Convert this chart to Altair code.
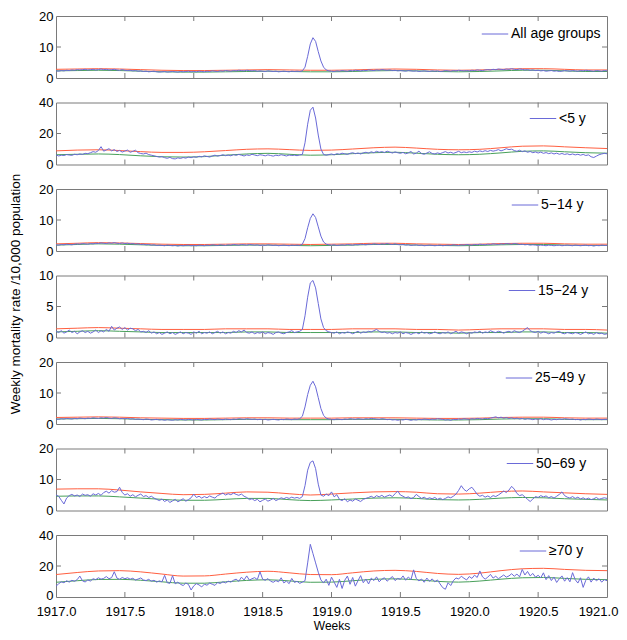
import altair as alt
import pandas as pd

START_YEAR = 1917.0
WEEKS_PER_YEAR = 52
BASE_EVERY = 8  # weeks between samples of the seasonal baseline / threshold curves

labels = ["All age groups", "<5 y", "5\u221214 y", "15\u221224 y", "25\u221249 y", "50\u221269 y", "\u226570 y"]
y_max = [20, 40, 20, 10, 20, 20, 40]
y_ticks = [[0, 10, 20], [0, 20, 40], [0, 10, 20], [0, 5, 10], [0, 10, 20], [0, 10, 20], [0, 20, 40]]
x_ticks = [1917.0, 1917.5, 1918.0, 1918.5, 1919.0, 1919.5, 1920.0, 1920.5, 1921.0]

# ---------------- observed weekly mortality (blue) ----------------
obs_all = [
    2.3, 2.2, 2.4, 2.3, 2.5, 2.4, 2.6, 2.5, 2.7, 2.6, 2.7, 2.8, 2.6,
    2.7, 2.8, 2.6, 2.7, 2.9, 2.7, 2.8, 2.6, 2.7, 2.8, 2.6, 2.5, 2.7,
    2.5, 2.4, 2.5, 2.3, 2.4, 2.2, 2.3, 2.1, 2.2, 2.0, 2.1, 2.2, 2.0,
    1.9, 2.0, 2.1, 1.9, 2.0, 2.1, 2.0, 1.9, 2.1, 2.0, 2.1, 2.2, 2.0,
    2.1, 2.0, 2.2, 2.1, 2.0, 2.2, 2.1, 2.3, 2.2, 2.1, 2.3, 2.2, 2.4,
    2.3, 2.2, 2.4, 2.3, 2.5, 2.4, 2.3, 2.5, 2.4, 2.3, 2.4, 2.2, 2.3,
    2.2, 2.1, 2.3, 2.2, 2.1, 2.2, 2.0, 2.1, 2.2, 2.1, 2.0, 2.2, 2.1,
    2.2, 2.1, 2.3, 3.5, 7.0, 11.0, 13.0, 11.8, 8.5, 5.5, 3.5, 2.6, 2.3,
    2.2, 2.1, 2.3, 2.2, 2.4, 2.3, 2.2, 2.4, 2.3, 2.5, 2.4, 2.3, 2.5,
    2.4, 2.6, 2.5, 2.4, 2.6, 2.5, 2.7, 2.6, 2.5, 2.6, 2.4, 2.5, 2.3,
    2.4, 2.3, 2.2, 2.4, 2.3, 2.2, 2.3, 2.1, 2.2, 2.3, 2.2, 2.1, 2.3,
    2.2, 2.3, 2.1, 2.2, 2.4, 2.3, 2.2, 2.4, 2.3, 2.5, 2.4, 2.3, 2.4,
    2.3, 2.5, 2.4, 2.6, 2.5, 2.4, 2.6, 2.7, 2.6, 2.8, 2.7, 2.9, 2.8,
    2.7, 2.9, 2.8, 3.0, 2.8, 2.7, 2.9, 2.8, 2.6, 2.7, 2.5, 2.6, 2.4,
    2.5, 2.3, 2.4, 2.2, 2.3, 2.4, 2.2, 2.3, 2.1, 2.2, 2.4, 2.3, 2.2,
    2.4, 2.3, 2.2, 2.4, 2.3, 2.5, 2.4, 2.3, 2.2, 2.4, 2.3, 2.2, 2.4,
    2.3,
]
obs_u5 = [
    6.2, 5.5, 6.0, 5.8, 6.4, 6.1, 5.9, 6.6, 6.3, 6.8, 6.5, 7.2, 7.0,
    7.6, 8.3, 7.9, 9.0, 11.5, 8.6, 9.4, 10.2, 8.8, 9.6, 8.4, 9.1, 8.0,
    8.7, 9.3, 7.9, 8.5, 9.2, 7.6, 7.1, 6.8, 7.3, 6.4, 6.0, 5.6, 5.2,
    4.8, 5.1, 4.4, 4.0, 4.6, 3.8, 3.6, 4.3, 3.9, 4.5, 4.1, 4.8, 4.4,
    5.0, 4.6, 5.3, 4.9, 5.6, 5.2, 4.8, 5.5, 6.0, 5.4, 5.8, 6.3, 5.7,
    6.1, 5.6, 6.4, 5.9, 6.5, 6.0, 5.5, 6.2, 5.8, 6.6, 6.1, 5.7, 6.3,
    6.0, 5.6, 6.2, 5.8, 5.4, 6.0, 5.7, 6.3, 5.9, 5.5, 6.1, 5.8, 6.0,
    5.7, 6.2, 6.5, 14.0, 26.0, 35.0, 37.0, 30.0, 19.0, 10.0, 6.5, 6.0, 6.4,
    6.8, 6.2, 7.0, 6.6, 7.3, 6.9, 6.5, 7.2, 7.6, 7.0, 7.4, 6.8, 7.5,
    7.9, 7.3, 8.2, 7.6, 8.5, 7.9, 8.3, 7.7, 8.6, 8.0, 7.4, 8.1, 7.6,
    7.2, 7.8, 6.9, 7.5, 8.4, 6.8, 7.3, 8.6, 7.0, 6.6, 7.4, 8.2, 7.1,
    6.8, 7.5, 7.0, 7.7, 8.3, 7.4, 7.9, 7.2, 7.8, 8.5, 7.6, 8.1, 7.7,
    8.2, 7.8, 8.6, 8.1, 8.8, 8.3, 8.9, 8.4, 9.1, 8.6, 9.0, 9.6, 8.8,
    9.4, 10.2, 9.6, 9.9, 9.0, 8.5, 9.2, 8.3, 8.8, 7.9, 8.4, 7.6, 8.1,
    7.4, 8.0, 7.2, 7.7, 7.0, 7.5, 6.8, 7.3, 6.6, 7.1, 6.5, 6.9, 6.3,
    6.8, 6.2, 6.6, 6.0, 6.5, 5.8, 6.2, 5.0, 4.5, 5.4, 6.3, 6.8, 7.2,
    6.9,
]
obs_5_14 = [
    2.0, 1.9, 2.1, 2.0, 2.2, 2.1, 2.0, 2.2, 2.3, 2.2, 2.4, 2.3, 2.2,
    2.4, 2.3, 2.5, 2.4, 2.6, 2.5, 2.4, 2.6, 2.5, 2.7, 2.5, 2.4, 2.6,
    2.4, 2.5, 2.3, 2.4, 2.2, 2.3, 2.1, 2.2, 2.0, 2.1, 1.9, 2.0, 1.8,
    1.9, 1.8, 1.7, 1.9, 1.8, 1.7, 1.8, 1.6, 1.8, 1.7, 1.8, 1.9, 1.7,
    1.8, 1.7, 1.9, 1.8, 1.7, 1.9, 1.8, 2.0, 1.9, 1.8, 2.0, 1.9, 1.8,
    2.0, 1.9, 2.1, 2.0, 1.9, 2.1, 2.0, 1.9, 2.1, 2.0, 1.9, 2.0, 1.8,
    1.9, 1.8, 2.0, 1.9, 1.8, 1.9, 1.7, 1.8, 1.9, 1.8, 1.7, 1.9, 1.8,
    1.9, 1.8, 2.2, 4.0, 7.5, 10.5, 12.0, 10.8, 7.8, 4.8, 2.9, 2.2, 2.0,
    1.9, 2.0, 1.8, 1.9, 2.0, 1.9, 2.1, 2.0, 1.9, 2.1, 2.0, 2.2, 2.1,
    2.0, 2.2, 2.1, 2.3, 2.2, 2.1, 2.3, 2.2, 2.4, 2.2, 2.1, 2.3, 2.1,
    2.0, 2.1, 1.9, 2.0, 1.8, 1.9, 2.0, 1.8, 1.9, 1.7, 1.8, 1.9, 1.8,
    1.7, 1.8, 1.9, 1.7, 1.8, 1.9, 1.8, 2.0, 1.9, 1.8, 2.0, 1.9, 2.1,
    2.0, 1.9, 2.1, 2.0, 2.2, 2.1, 2.0, 2.2, 2.1, 2.3, 2.2, 2.1, 2.3,
    2.2, 2.4, 2.3, 2.2, 2.4, 2.3, 2.1, 2.2, 2.0, 2.1, 1.9, 2.0, 1.9,
    1.8, 1.9, 1.8, 1.7, 1.9, 1.8, 1.7, 1.8, 1.9, 1.7, 1.8, 1.9, 1.8,
    1.7, 1.9, 1.8, 1.7, 1.8, 1.9, 1.7, 1.8, 1.6, 1.8, 1.7, 1.9, 1.8,
    1.8,
]
obs_15_24 = [
    1.0, 0.8, 1.1, 0.7, 0.9, 1.2, 0.8, 1.0, 0.6, 0.9, 1.1, 0.8, 1.0,
    0.7, 0.9, 1.2, 0.8, 1.1, 0.9, 1.3, 1.0, 1.8, 1.2, 1.5, 1.7, 1.3,
    1.6, 1.2, 1.5, 1.4, 1.1, 1.3, 0.9, 1.0, 0.8, 1.1, 0.7, 0.9, 0.6,
    0.8, 0.5, 0.7, 0.9, 0.6, 0.8, 0.5, 0.7, 0.9, 0.6, 0.8, 0.7, 0.5,
    0.9, 0.7, 1.0, 0.6, 0.8, 0.7, 0.9, 0.6, 0.8, 1.0, 0.7, 0.9, 0.6,
    0.8, 0.7, 1.0, 0.8, 1.1, 0.9, 1.2, 0.8, 0.7, 0.9, 0.6, 0.8, 0.7,
    0.9, 0.6, 0.8, 0.7, 0.5, 0.8, 0.9, 0.7, 0.6, 0.8, 0.9, 1.1, 0.8,
    0.9, 1.0, 1.3, 3.5, 6.5, 8.8, 9.2, 8.0, 5.5, 3.0, 1.6, 1.1, 0.9,
    0.8, 0.7, 0.9, 0.6, 0.8, 0.7, 0.9, 0.8, 0.6, 0.8, 1.0, 0.7, 0.9,
    0.8, 1.0, 0.9, 1.1, 1.3, 1.0, 0.8, 0.9, 0.7, 0.8, 0.6, 0.8, 0.7,
    0.9, 0.6, 0.8, 0.7, 0.5, 0.7, 0.8, 0.6, 0.9, 0.7, 0.8, 0.6, 0.7,
    0.9, 0.7, 0.6, 0.8, 0.7, 0.9, 0.6, 0.8, 1.0, 0.7, 0.9, 0.8, 0.6,
    0.8, 0.7, 0.9, 0.8, 1.0, 0.7, 0.9, 0.8, 1.1, 0.9, 0.8, 1.0, 0.9,
    0.7, 0.9, 1.0, 0.8, 1.1, 0.9, 0.8, 1.0, 1.3, 1.6, 1.1, 0.9, 0.8,
    1.0, 0.7, 0.9, 0.8, 0.6, 0.8, 0.7, 0.9, 1.0, 0.7, 0.6, 0.8, 0.7,
    0.6, 0.8, 0.7, 0.5, 0.7, 0.9, 0.6, 0.7, 0.5, 0.8, 0.6, 0.7, 0.5,
    0.6,
]
obs_25_49 = [
    1.6, 1.5, 1.7, 1.6, 1.8, 1.7, 1.6, 1.8, 1.7, 1.9, 1.8, 1.7, 1.9,
    1.8, 2.0, 1.9, 1.8, 2.0, 1.9, 2.1, 1.9, 1.8, 2.0, 1.9, 1.7, 1.8,
    1.7, 1.8, 1.6, 1.7, 1.5, 1.6, 1.5, 1.4, 1.6, 1.5, 1.3, 1.4, 1.5,
    1.3, 1.4, 1.2, 1.4, 1.3, 1.2, 1.4, 1.3, 1.5, 1.4, 1.3, 1.5, 1.4,
    1.3, 1.5, 1.4, 1.3, 1.5, 1.4, 1.6, 1.5, 1.4, 1.6, 1.5, 1.4, 1.6,
    1.5, 1.4, 1.6, 1.5, 1.7, 1.6, 1.5, 1.7, 1.6, 1.5, 1.6, 1.4, 1.5,
    1.4, 1.5, 1.3, 1.4, 1.5, 1.4, 1.3, 1.5, 1.4, 1.6, 1.5, 1.4, 1.6,
    1.5, 1.7, 2.5, 5.5, 9.5, 12.5, 13.8, 12.0, 8.5, 5.0, 2.8, 1.9, 1.6,
    1.5, 1.4, 1.6, 1.5, 1.4, 1.6, 1.5, 1.7, 1.6, 1.5, 1.7, 1.6, 1.5,
    1.7, 1.6, 1.8, 1.7, 1.6, 1.5, 1.7, 1.6, 1.4, 1.5, 1.3, 1.4, 1.2,
    1.4, 1.3, 1.5, 1.4, 1.2, 1.4, 1.3, 1.5, 1.4, 1.6, 1.5, 1.4, 1.6,
    1.5, 1.7, 1.6, 1.5, 1.3, 1.4, 1.2, 1.5, 1.4, 1.6, 1.5, 1.7, 1.6,
    1.5, 1.7, 1.6, 1.8, 1.7, 1.6, 1.8, 1.7, 1.9, 2.1, 2.3, 2.0, 2.2,
    1.9, 2.1, 1.8, 2.0, 1.7, 1.9, 1.6, 1.8, 1.5, 1.7, 1.6, 1.4, 1.6,
    1.5, 1.7, 1.4, 1.6, 1.5, 1.3, 1.5, 1.4, 1.6, 1.5, 1.7, 1.6, 1.5,
    1.6, 1.4, 1.5, 1.3, 1.5, 1.4, 1.6, 1.5, 1.4, 1.6, 1.5, 1.4, 1.5,
    1.5,
]
obs_50_69 = [
    5.0, 4.6, 3.3, 2.1, 4.0, 4.8, 5.2, 4.7, 5.0, 4.5, 5.3, 4.9, 5.1,
    4.6, 5.4, 5.0, 5.5, 4.9, 5.8, 6.2, 5.6, 6.4, 5.9, 6.1, 7.5, 5.8,
    5.0, 5.4, 4.6, 5.1, 4.4, 4.9, 5.3, 4.5, 4.8, 4.2, 4.6, 4.0, 3.6,
    3.2, 3.7, 2.9, 3.4, 2.6, 3.1, 3.6, 2.8, 3.3, 3.8, 3.0, 3.5, 4.1,
    5.3, 4.2, 4.6, 4.0, 4.5, 4.1, 4.7, 4.3, 4.0, 4.8, 5.2, 5.6, 5.0,
    5.4, 5.1, 5.6, 5.2, 4.9, 5.3, 4.6, 4.2, 3.5, 3.8, 3.2, 3.6, 2.8,
    3.3, 3.7, 3.0, 3.4, 3.9, 3.2, 3.6, 4.1, 3.8, 4.2, 3.9, 4.3, 4.0,
    4.2, 3.9, 4.5, 8.0, 13.0, 15.5, 16.0, 13.5, 8.5, 5.0, 4.6, 5.3, 4.8,
    6.0, 4.4, 5.1, 3.6, 3.2, 3.8, 2.8, 3.4, 3.0, 3.7, 3.3, 2.9, 3.6,
    3.9, 4.2, 4.6, 4.1, 4.8, 4.4, 4.9, 4.3, 4.7, 5.0, 4.5, 5.4, 6.3,
    5.0, 4.6, 4.1, 4.4, 3.8, 4.2, 5.2, 4.5, 3.9, 4.3, 3.7, 4.1, 3.8,
    4.2, 3.6, 4.0, 3.5, 3.9, 4.4, 4.1, 4.6, 5.3, 6.5, 8.0, 6.8, 6.2,
    7.0, 7.5, 6.4, 5.2, 4.6, 4.9, 4.3, 4.7, 4.2, 4.8, 4.5, 5.0, 5.6,
    6.3, 5.8, 6.6, 7.8, 6.9, 5.5, 4.8, 5.1, 4.4, 3.6, 2.9, 3.7, 4.5,
    4.2, 4.8, 4.4, 4.7, 4.1, 4.5, 4.0, 4.6, 5.2, 6.0, 4.8, 4.3, 4.0,
    4.5, 3.9, 4.3, 3.7, 4.1, 3.6, 4.0, 3.5, 3.8, 4.2, 3.6, 3.9, 4.1,
    3.9,
]
obs_70 = [
    7.0, 8.5, 9.8, 9.2, 10.5, 9.6, 10.8, 10.1, 11.2, 13.5, 10.4, 9.7, 11.0,
    10.3, 11.8, 11.2, 12.4, 11.5, 12.0, 13.2, 11.8, 12.5, 16.3, 12.2, 11.4, 12.6,
    11.8, 12.4, 11.5, 12.1, 10.9, 11.6, 12.3, 11.0, 10.6, 11.4, 10.2, 10.8, 9.6,
    10.4, 9.8, 14.0, 9.2, 8.8, 13.8, 8.5, 9.6, 8.2, 7.4, 9.0, 8.1, 4.5,
    7.2, 8.6, 7.8, 6.5, 8.3, 7.6, 9.0, 8.2, 7.5, 9.3, 8.7, 9.8, 9.1,
    10.2, 9.6, 10.8, 11.5, 10.1, 12.8, 11.0, 13.6, 10.9, 11.8, 12.5, 11.2, 16.3,
    11.5, 10.8, 11.9, 10.2, 9.5, 10.6, 9.8, 12.4, 9.1, 10.3, 8.6, 12.0, 9.4,
    10.1, 8.8, 9.6, 10.5, 22.0, 34.0, 28.0, 22.0, 16.0, 11.0, 9.0, 11.5, 7.5,
    12.8, 9.6, 6.2, 11.4, 5.5, 10.8, 13.5, 8.2, 12.6, 7.0, 10.5, 13.8, 9.2,
    11.6, 8.4, 12.2, 10.6, 13.0, 9.8, 11.5, 12.4, 10.2, 11.8, 13.2, 10.6, 12.0,
    11.4, 13.6, 10.8, 12.9, 11.2, 17.5, 12.0, 10.4, 11.6, 9.5, 12.2, 10.1, 11.7,
    9.8, 11.0, 8.4, 6.0, 5.0, 9.2, 7.4, 10.5, 12.3, 11.6, 13.4, 12.1, 11.0,
    13.2, 12.0, 14.1, 12.6, 16.8, 13.0, 11.5, 12.8, 14.6, 12.2, 13.4, 11.8, 13.0,
    14.2, 12.8, 13.6, 15.0, 13.4, 14.8, 13.0, 17.8, 14.2, 16.5, 13.6, 15.2, 12.8,
    14.0, 12.4, 15.6, 11.2, 13.8, 10.6, 12.9, 9.4, 11.8, 13.6, 10.2, 12.5, 9.8,
    15.7, 11.2, 9.0, 12.4, 6.2, 10.8, 13.0, 9.6, 12.2, 10.4, 11.8, 9.6, 11.2,
    10.5,
]

# ---------------- epidemic threshold (red), sampled every 8 weeks ----------------
upper_all = [2.8, 2.9, 3.0, 2.9, 2.7, 2.5, 2.4, 2.4, 2.5, 2.6, 2.7, 2.6, 2.5, 2.5,
             2.6, 2.8, 2.9, 2.8, 2.6, 2.5, 2.6, 2.8, 3.0, 3.0, 2.8, 2.6, 2.6]
upper_u5 = [8.8, 9.3, 9.5, 9.0, 8.3, 7.8, 7.8, 8.2, 9.0, 9.8, 10.1, 9.6, 9.1, 9.3,
            10.0, 10.8, 11.2, 10.6, 9.8, 9.5, 9.8, 10.8, 11.8, 12.0, 11.4, 10.8, 10.3]
upper_5_14 = [2.3, 2.5, 2.7, 2.6, 2.4, 2.2, 2.1, 2.1, 2.2, 2.3, 2.3, 2.2, 2.1, 2.2,
              2.3, 2.5, 2.5, 2.3, 2.2, 2.1, 2.2, 2.4, 2.5, 2.5, 2.3, 2.2, 2.2]
upper_15_24 = [1.4, 1.5, 1.6, 1.5, 1.4, 1.3, 1.3, 1.3, 1.4, 1.4, 1.4, 1.3, 1.3, 1.3,
               1.4, 1.4, 1.4, 1.3, 1.3, 1.2, 1.3, 1.4, 1.4, 1.4, 1.3, 1.3, 1.2]
upper_25_49 = [2.1, 2.2, 2.3, 2.2, 2.0, 1.9, 1.8, 1.8, 1.9, 2.0, 2.0, 1.9, 1.9, 1.9,
               2.0, 2.0, 2.0, 1.9, 1.8, 1.8, 1.9, 2.1, 2.2, 2.2, 2.0, 1.9, 1.9]
upper_50_69 = [6.9, 7.0, 7.0, 6.6, 6.0, 5.5, 5.1, 5.2, 5.6, 6.0, 5.9, 5.4, 5.0, 5.3,
               5.7, 6.0, 6.1, 5.9, 5.4, 5.3, 5.6, 6.1, 6.3, 6.0, 5.7, 5.4, 5.2]
upper_70 = [14.5, 15.8, 16.8, 17.0, 16.2, 14.8, 13.5, 13.6, 14.8, 16.0, 16.6, 15.6, 14.5, 14.4,
            15.6, 16.8, 17.2, 16.5, 15.2, 14.6, 15.4, 17.0, 18.2, 18.5, 17.8, 17.2, 17.0]

# ---------------- seasonal baseline (green), sampled every 8 weeks ----------------
base_all = [2.3, 2.4, 2.5, 2.4, 2.2, 2.0, 1.9, 1.9, 2.0, 2.1, 2.2, 2.1, 2.0, 2.0,
            2.1, 2.3, 2.4, 2.3, 2.1, 2.0, 2.1, 2.3, 2.5, 2.5, 2.3, 2.1, 2.1]
base_u5 = [6.3, 6.6, 6.8, 6.4, 5.6, 5.0, 4.8, 5.1, 6.0, 6.8, 7.2, 6.6, 6.0, 6.3,
           7.0, 7.6, 7.9, 7.3, 6.6, 6.3, 6.6, 7.5, 8.5, 8.8, 8.2, 7.6, 7.3]
base_5_14 = [1.9, 2.1, 2.3, 2.2, 2.0, 1.8, 1.7, 1.7, 1.8, 1.9, 1.9, 1.8, 1.7, 1.8,
             1.9, 2.1, 2.1, 1.9, 1.8, 1.7, 1.8, 2.0, 2.1, 2.1, 1.9, 1.8, 1.8]
base_15_24 = [0.9, 1.0, 1.1, 1.0, 0.9, 0.8, 0.8, 0.8, 0.8, 0.9, 0.9, 0.8, 0.8, 0.8,
              0.8, 0.9, 0.9, 0.8, 0.8, 0.7, 0.8, 0.8, 0.9, 0.9, 0.8, 0.8, 0.7]
base_25_49 = [1.6, 1.7, 1.8, 1.7, 1.5, 1.4, 1.3, 1.3, 1.4, 1.5, 1.5, 1.4, 1.4, 1.4,
              1.5, 1.5, 1.5, 1.4, 1.3, 1.3, 1.4, 1.6, 1.7, 1.7, 1.5, 1.4, 1.4]
base_50_69 = [4.6, 4.7, 4.7, 4.4, 4.0, 3.6, 3.3, 3.3, 3.6, 3.9, 3.9, 3.5, 3.2, 3.4,
              3.7, 4.0, 4.1, 3.9, 3.5, 3.4, 3.6, 4.0, 4.2, 4.1, 3.8, 3.6, 3.4]
base_70 = [9.5, 10.5, 11.3, 11.4, 10.8, 9.8, 8.9, 8.9, 9.8, 10.7, 11.1, 10.4, 9.5, 9.6,
           10.5, 11.4, 11.7, 11.1, 10.1, 9.6, 10.3, 11.5, 12.4, 12.6, 12.0, 11.4, 11.2]

observed = [obs_all, obs_u5, obs_5_14, obs_15_24, obs_25_49, obs_50_69, obs_70]
upper = [upper_all, upper_u5, upper_5_14, upper_15_24, upper_25_49, upper_50_69, upper_70]
baseline = [base_all, base_u5, base_5_14, base_15_24, base_25_49, base_50_69, base_70]

# ---------------- styling ----------------
FONT = "Liberation Sans"
BLUE = "#6a6ad8"
RED = "#ff5f40"
GREEN = "#48a05a"
FRAME = "#7a7a7a"
W, H = 551, 62
TICK = 5
legend_x = [425, 473, 455, 452, 449, 450, 463]
legend_y = [4, 2, 2, 1, 2, 1, 2]
Y_TITLE = "Weekly mortality rate /10,000 population"


def make_panel(k):
    n = len(observed[k])
    obs_df = pd.DataFrame({
        "year": [START_YEAR + i / WEEKS_PER_YEAR for i in range(n)],
        "rate": observed[k],
        "series": [labels[k]] * n,
    })
    m = len(baseline[k])
    curve_df = pd.DataFrame({
        "year": [START_YEAR + i * BASE_EVERY / WEEKS_PER_YEAR for i in range(m)],
        "base": baseline[k],
        "upper": upper[k],
    })
    xt_df = pd.DataFrame({"t": x_ticks[1:-1]})
    yt_df = pd.DataFrame({"v": y_ticks[k][1:-1]})

    xs = alt.Scale(domain=[x_ticks[0], x_ticks[-1]], nice=False, zero=False)
    ys = alt.Scale(domain=[0, y_max[k]], nice=False)
    last = k == len(labels) - 1

    if last:
        xaxis = alt.Axis(values=x_ticks, format=".1f", ticks=False, domain=False, grid=False,
                         labelFlush=False, labelPadding=8, labelFontSize=13,
                         labelOffset={"condition": {"test": "datum.value >= 1921", "value": -9}, "value": 0},
                         title="Weeks", titleFontSize=12, titlePadding=2, titleFontWeight="normal")
    else:
        xaxis = None

    y_opts = dict(values=y_ticks[k], format="d", ticks=False, domain=False, grid=False,
                  labelPadding=3, labelFontSize=13)
    if last:
        y_opts["labelOffset"] = {"condition": {"test": "datum.value == 0", "value": -2}, "value": 0}
    if k == 3:
        yaxis = alt.Axis(title=Y_TITLE, titleFontSize=13.5, titleFontWeight="normal",
                         titlePadding=16, titleY=18, **y_opts)
    else:
        yaxis = alt.Axis(title=None, **y_opts)

    def X(field):
        return alt.X(field, type="quantitative", scale=xs, axis=xaxis)

    def Y(field):
        return alt.Y(field, type="quantitative", scale=ys, axis=yaxis)

    green = alt.Chart(curve_df).mark_line(color=GREEN, strokeWidth=1, interpolate="monotone").encode(
        x=X("year"), y=Y("base"))
    red = alt.Chart(curve_df).mark_line(color=RED, strokeWidth=1, interpolate="monotone").encode(
        x=X("year"), y=Y("upper"))
    blue = alt.Chart(obs_df).mark_line(strokeWidth=1).encode(
        x=X("year"), y=Y("rate"),
        color=alt.Color("series:N",
                        scale=alt.Scale(domain=[labels[k]], range=[BLUE]),
                        legend=alt.Legend(title=None, orient="none", legendX=legend_x[k], legendY=legend_y[k],
                                          symbolType="stroke", symbolSize=700, symbolStrokeWidth=1,
                                          labelOffset=2, padding=0, labelFontSize=14,
                                          labelFont=FONT, labelColor="black")))
    top_t = alt.Chart(xt_df).mark_rule(color=FRAME).encode(x=X("t"), y=alt.value(0), y2=alt.value(TICK))
    bot_t = alt.Chart(xt_df).mark_rule(color=FRAME).encode(x=X("t"), y=alt.value(H), y2=alt.value(H - TICK))
    left_t = alt.Chart(yt_df).mark_rule(color=FRAME).encode(y=Y("v"), x=alt.value(0), x2=alt.value(TICK))
    right_t = alt.Chart(yt_df).mark_rule(color=FRAME).encode(y=Y("v"), x=alt.value(W - TICK), x2=alt.value(W))

    return alt.layer(green, red, blue, top_t, bot_t, left_t, right_t).properties(width=W, height=H)


panels = [make_panel(k) for k in range(len(labels))]

chart = (
    alt.vconcat(*panels, spacing=24.5, bounds="flush")
    .resolve_scale(color="independent", x="independent", y="independent")
    .resolve_legend(color="independent")
    .properties(padding={"left": 0, "top": 1, "right": 0, "bottom": 0})
    .configure_view(stroke=FRAME, strokeWidth=1)
    .configure_axis(labelFont=FONT, titleFont=FONT, labelColor="black", titleColor="black")
    .configure_legend(labelFont=FONT, labelColor="black")
)

chart.save("out.html", embed_options={"renderer": "svg", "actions": False})
